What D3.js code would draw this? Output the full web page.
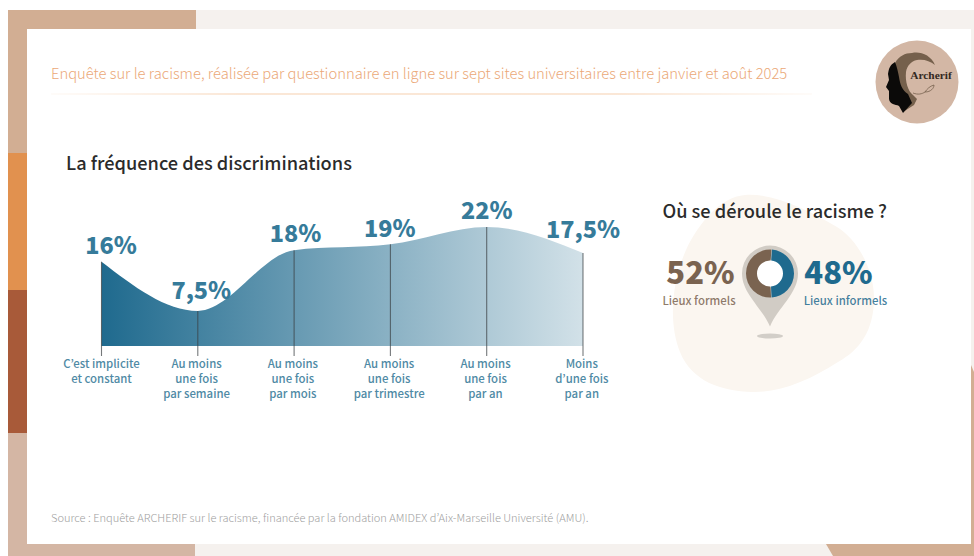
<!DOCTYPE html>
<html lang="fr">
<head>
<meta charset="utf-8">
<title>Enquête ARCHERIF sur le racisme</title>
<script src="https://cdn.jsdelivr.net/npm/d3@7"></script>
<style>
  html, body { margin: 0; padding: 0; background: #fff; }
  svg { display: block; }
  text { font-family: "Noto Sans CJK KR", "Noto Sans", sans-serif; }
</style>
</head>
<body>
<svg id="chart" width="974" height="556"></svg>
<script>
// Fréquence des discriminations
const frequencyLabels = [
  ["C’est implicite", "et constant"],
  ["Au moins", "une fois", "par semaine"],
  ["Au moins", "une fois", "par mois"],
  ["Au moins", "une fois", "par trimestre"],
  ["Au moins", "une fois", "par an"],
  ["Moins", "d’une fois", "par an"]
];
const frequencyValues = [16, 7.5, 18, 19, 22, 17.5];
const frequencyText = ["16%", "7,5%", "18%", "19%", "22%", "17,5%"];

// Lieux du racisme
const placeNames = ["Lieux informels", "Lieux formels"];
const placeValues = [48, 52];
const placeColors = ["#1f6a8e", "#7a6350"];

const svg = d3.select("#chart");
const defs = svg.append("defs");

// Cadre décoratif autour de la carte blanche
const frame = svg.append("g");
const bands = [
  [8, 10, 966, 19, "#f5f1ee"],
  [195, 544, 779, 12, "#f5f1ee"],
  [971, 10, 3, 546, "#f5f1ee"],
  [8, 10, 188, 19, "#d2ae93"],
  [8, 10, 19, 143, "#d2ae93"],
  [8, 153, 19, 137, "#e1914f"],
  [8, 290, 19, 143, "#a85a39"],
  [8, 433, 19, 123, "#d4b6a4"],
  [8, 544, 187, 12, "#d4b6a4"]
];
frame.selectAll("rect").data(bands).join("rect")
  .attr("x", d => d[0]).attr("y", d => d[1])
  .attr("width", d => d[2]).attr("height", d => d[3])
  .attr("fill", d => d[4]);
frame.append("path").attr("d", "M826,544 L974,544 L974,556 L833,556 Z").attr("fill", "#d2ae93");
frame.append("path").attr("d", "M971,365 L974,372 L974,544 L971,544 Z").attr("fill", "#d2ae93");
svg.append("rect").attr("x", 27).attr("y", 29).attr("width", 944).attr("height", 515).attr("fill", "#fff");

// En-tête
svg.append("text").attr("x", 51).attr("y", 79)
  .attr("font-size", 14.76).attr("font-weight", 300).attr("fill", "#eba877")
  .text("Enquête sur le racisme, réalisée par questionnaire en ligne sur sept sites universitaires entre janvier et août 2025");
const ruleFade = defs.append("linearGradient").attr("id", "ruleFade");
ruleFade.append("stop").attr("offset", 0).attr("stop-color", "#f6cfae").attr("stop-opacity", 0.15);
ruleFade.append("stop").attr("offset", 0.25).attr("stop-color", "#f6cfae");
ruleFade.append("stop").attr("offset", 0.75).attr("stop-color", "#f6cfae");
ruleFade.append("stop").attr("offset", 1).attr("stop-color", "#f6cfae").attr("stop-opacity", 0.15);
svg.append("rect").attr("x", 51).attr("y", 93.5).attr("width", 761).attr("height", 1).attr("fill", "url(#ruleFade)");

// Logo : deux profils, une feuille et le nom
const logo = svg.append("g");
logo.append("circle").attr("cx", 917).attr("cy", 82).attr("r", 41.5).attr("fill", "#d3b7a5");
logo.append("path")
  .attr("d", "M895,63 C899,56 905,53 912,53 C920,51 931,55 935,65 C930,61 924,59 917,60 C911,61 907,66 906,72 C905,82 908,91 913,95 L917,99 L914,105 L903,112 L898,100 L893,80 Z")
  .attr("fill", "#75604c");
logo.append("path")
  .attr("d", "M895,62 C890,65 889,68 888,74 L889,80 L886,87 L889,91 L889,99 C890,105 895,104 899,106 L903,113 L912,103 L908,94 C902,90 900,84 899,77 C898,72 897,67 895,62 Z")
  .attr("fill", "#0b0a09");
logo.append("path")
  .attr("d", "M913,93 C918,95 922,94 925,92 C927,89 930,86 934,85 C934,88 931,92 925,92")
  .attr("fill", "none").attr("stroke", "#75604c").attr("stroke-width", 0.8);
logo.append("text").attr("x", 931).attr("y", 78.5).attr("text-anchor", "middle")
  .style("font-family", "'Liberation Serif', serif").attr("font-size", 11.4).attr("font-weight", 700)
  .attr("fill", "#33291f").text("Archerif");

// Courbe des fréquences
svg.append("text").attr("x", 66).attr("y", 169.5)
  .attr("font-size", 18.2).attr("font-weight", 500).attr("fill", "#2b2b2b")
  .text("La fréquence des discriminations");

const baseline = 346;
const x = d3.scalePoint().domain(d3.range(frequencyValues.length)).range([101.5, 583]);
const y = d3.scaleLinear().domain([1.45, 22]).range([baseline, 227]);

const areaFill = defs.append("linearGradient").attr("id", "areaFill");
areaFill.append("stop").attr("offset", 0).attr("stop-color", "#1f6a8e");
areaFill.append("stop").attr("offset", 1).attr("stop-color", "#d2e1e8");

const area = d3.area()
  .x((d, i) => x(i))
  .y0(baseline)
  .y1(d => y(d))
  .curve(d3.curveMonotoneX);

svg.append("path").datum(frequencyValues).attr("d", area).attr("fill", "url(#areaFill)");

svg.append("g").selectAll("line").data(frequencyValues).join("line")
  .attr("x1", (d, i) => x(i)).attr("x2", (d, i) => x(i))
  .attr("y1", d => y(d)).attr("y2", baseline + 10)
  .attr("stroke", "#3a3f42").attr("stroke-opacity", 0.7).attr("stroke-width", 1.1);

const valueOffsets = [-8, -12, -8, -7, -8, -15];
const valueShifts = [9.5, 3.5, 1.5, -0.5, 0, 0];
svg.append("g").selectAll("text").data(frequencyText).join("text")
  .attr("x", (d, i) => x(i) + valueShifts[i])
  .attr("y", (d, i) => y(frequencyValues[i]) + valueOffsets[i])
  .attr("text-anchor", "middle")
  .attr("font-size", 23.4).attr("font-weight", 900).attr("fill", "#367b9a")
  .text(d => d);

const tickGroups = svg.append("g").selectAll("text").data(frequencyLabels).join("text")
  .attr("text-anchor", "middle")
  .attr("font-size", 11.4).attr("font-weight", 500).attr("fill", "#4f8aa5");
tickGroups.selectAll("tspan").data((d, i) => d.map(line => ({ line, i }))).join("tspan")
  .attr("x", d => x(d.i) - (d.i === 0 ? 0 : 1.2))
  .attr("y", (d, j) => 367.5 + j * 15.2)
  .text(d => d.line);

// Lieux : tache de fond, repère et anneau
svg.append("path")
  .attr("d", "M745,195 C772,193 805,208 837,227 C858,240 874,270 874,298 C874,330 860,350 838,362 C810,380 780,393 752,392 C722,391 692,382 680,352 C668,322 672,282 686,250 C698,224 720,197 745,195 Z")
  .attr("fill", "#fbf6f0");

svg.append("text").attr("x", 662.5).attr("y", 217.5)
  .attr("font-size", 18.2).attr("font-weight", 500).attr("fill", "#2b2b2b")
  .text("Où se déroule le racisme ?");

const pinX = 770, pinY = 273.5;
svg.append("ellipse").attr("cx", pinX).attr("cy", 336).attr("rx", 13).attr("ry", 2.5).attr("fill", "#d2cec8");
svg.append("path")
  .attr("d", `M${pinX},${pinY + 53} C${pinX - 8},${pinY + 34} ${pinX - 28},${pinY + 20} ${pinX - 28},${pinY} A28,28 0 1 1 ${pinX + 28},${pinY} C${pinX + 28},${pinY + 20} ${pinX + 8},${pinY + 34} ${pinX},${pinY + 53} Z`)
  .attr("fill", "#d1ccc5");
svg.append("circle").attr("cx", pinX).attr("cy", pinY).attr("r", 14).attr("fill", "#fff");

const pie = d3.pie().sort(null).startAngle(0.07).endAngle(2 * Math.PI + 0.07);
const arc = d3.arc().innerRadius(13).outerRadius(24).padAngle(0.02);
svg.append("g").attr("transform", `translate(${pinX},${pinY})`)
  .selectAll("path").data(pie(placeValues)).join("path")
  .attr("d", arc)
  .attr("fill", (d, i) => placeColors[i]);

const places = [
  { x: 700.5, y: 284, sub: 699, i: 1 },
  { x: 838.5, y: 284, sub: 845.5, i: 0 }
];
svg.append("g").selectAll("text").data(places).join("text")
  .attr("x", d => d.x).attr("y", d => d.y)
  .attr("text-anchor", "middle")
  .attr("font-size", 31).attr("font-weight", 900)
  .attr("fill", d => placeColors[d.i])
  .text(d => `${placeValues[d.i]}%`);
svg.append("g").selectAll("text").data(places).join("text")
  .attr("x", d => d.sub).attr("y", 304.5)
  .attr("text-anchor", "middle")
  .attr("font-size", 11.4).attr("font-weight", 500)
  .attr("fill", d => placeColors[d.i])
  .attr("fill-opacity", 0.85)
  .text(d => placeNames[d.i]);

// Source
svg.append("text").attr("x", 51).attr("y", 522)
  .attr("font-size", 11.05).attr("font-weight", 300).attr("fill", "#a0a0a0")
  .text("Source : Enquête ARCHERIF sur le racisme, financée par la fondation AMIDEX d’Aix-Marseille Université (AMU).");
</script>
</body>
</html>
